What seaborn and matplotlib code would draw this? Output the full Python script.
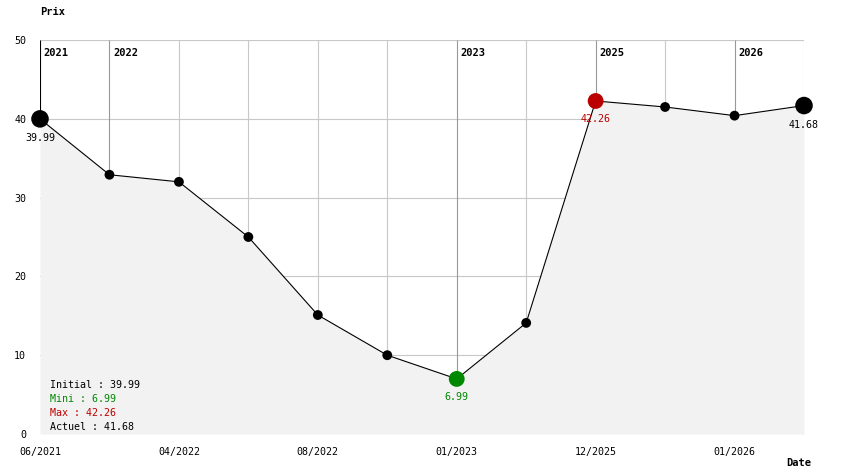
import numpy as np
import pandas as pd
import seaborn as sns
import matplotlib.pyplot as plt

# price history
prices = [39.99, 32.9, 32.0, 25.0, 15.1, 10.0, 6.99, 14.1, 42.26, 41.5, 40.4, 41.68]
date_labels = ["06/2021", "", "04/2022", "", "08/2022", "", "01/2023", "", "12/2025", "", "01/2026", ""]
year_marks = {0: "2021", 1: "2022", 6: "2023", 8: "2025", 10: "2026"}

df = pd.DataFrame({"idx": np.arange(len(prices)), "prix": prices})
i_min = int(np.argmin(prices))
i_max = int(np.argmax(prices))
i_last = len(prices) - 1

sns.set_style("white")
plt.rcParams["font.family"] = ["DejaVu Sans Mono"]
plt.rcParams["font.size"] = 7.2
plt.rcParams["text.color"] = "black"
plt.rcParams["xtick.color"] = "black"
plt.rcParams["ytick.color"] = "black"

fig = plt.figure(figsize=(8.44, 4.74), dpi=100)
ax = fig.add_axes([40 / 844, 40 / 474, 764 / 844, 394 / 474])

ax.set_xlim(0, i_last)
ax.set_ylim(0, 50)

# horizontal grid
for v in [10, 20, 30, 40, 50]:
    ax.axhline(v, color="#c8c8c8", lw=0.8, zorder=0)
# vertical grid
for i, p in enumerate(prices):
    if i in year_marks:
        col = "black" if i == 0 else "#999999"
    else:
        col = "#c8c8c8"
    ax.vlines(i, p, 50, color=col, lw=0.8, zorder=1)
    if i in year_marks:
        ax.text(i + 0.05, 48.4, year_marks[i], fontsize=7.5, fontweight="bold",
                va="center", ha="left", zorder=5)

ax.fill_between(df["idx"], df["prix"], 0, color="#f2f2f2", zorder=1.5, lw=0)
sns.lineplot(data=df, x="idx", y="prix", color="black", lw=0.8, ax=ax, zorder=2)

sizes = [50] * len(prices)
colors = ["black"] * len(prices)
sizes[0] = sizes[i_last] = 160
sizes[i_min] = sizes[i_max] = 130
colors[i_min] = "#008800"
colors[i_max] = "#bb0000"
sns.scatterplot(data=df, x="idx", y="prix", s=sizes, c=colors, edgecolor="none",
                legend=False, ax=ax, zorder=3, clip_on=False)

ax.text(0, prices[0] - 1.8, f"{prices[0]:.2f}", ha="center", va="top", zorder=5)
ax.text(i_min, prices[i_min] - 1.7, f"{prices[i_min]:.2f}", ha="center", va="top", color="#008800", zorder=5)
ax.text(i_max, prices[i_max] - 1.7, f"{prices[i_max]:.2f}", ha="center", va="top", color="#bb0000", zorder=5)
ax.text(i_last, prices[i_last] - 1.8, f"{prices[i_last]:.2f}", ha="center", va="top", zorder=5)

# summary box
summary = [(f"Initial : {prices[0]:.2f}", "black"),
           (f"Mini : {prices[i_min]:.2f}", "#008800"),
           (f"Max : {prices[i_max]:.2f}", "#bb0000"),
           (f"Actuel : {prices[i_last]:.2f}", "black")]
for k, (txt, col) in enumerate(summary):
    ax.text(10 / 764, (434 - (385 + 14 * k)) / 394, txt, color=col,
            transform=ax.transAxes, ha="left", va="center", zorder=5)

ax.set_xticks(df["idx"])
ax.set_xticklabels(date_labels)
ax.set_yticks([0, 10, 20, 30, 40, 50])
ax.tick_params(length=0, pad=9, labelsize=7.2)
ax.tick_params(axis="y", pad=10)
for s in ax.spines.values():
    s.set_visible(False)
ax.set_xlabel("")
ax.set_ylabel("")

fig.text(40 / 844, 1 - 12 / 474, "Prix", fontweight="bold", fontsize=7.5, va="center", ha="left")
fig.text(811 / 844, 1 - 463 / 474, "Date", fontweight="bold", fontsize=7.5, va="center", ha="right")

fig.savefig("out.png", dpi=100)
